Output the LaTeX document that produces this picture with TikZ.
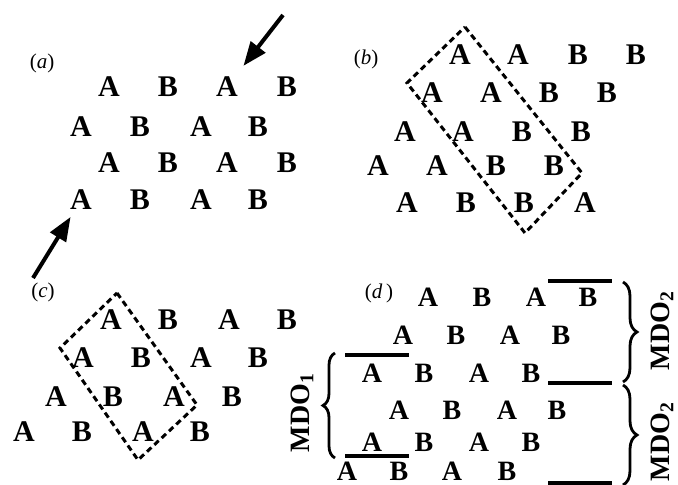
\documentclass[tikz,border=0pt]{standalone}
\usepackage{fontspec}
\setmainfont{Liberation Serif}
\usetikzlibrary{arrows.meta}
\usetikzlibrary{decorations.pathreplacing}

\begin{document}
\begin{tikzpicture}[x=1pt,y=-1pt,
	every node/.style={inner sep=0pt, font=\fontsize{30}{30}\selectfont\bfseries},
	dlab/.style={font=\fontsize{21}{21}\selectfont},
	mdo/.style={rotate=90, font=\fontsize{28}{28}\selectfont\bfseries},
	bigarrow/.style={line width=4pt, -{Triangle[length=24pt,width=18pt]}},
	cell/.style={line width=3pt, dash pattern=on 6pt off 4pt},
	bar/.style={line width=3.3pt},
	curly/.style={line width=2.8pt, decorate, decoration={brace,amplitude=#1}}]
		
		\useasboundingbox (0,0) rectangle (678,485);
		
		% (a)
		\node[dlab] (la) at (42,63) {(\textit{a})};
		\path (109,87) node (a11) {A} (168,87) node (a12) {B} (227,87) node (a13) {A} (287,87) node (a14) {B};
		\path (81,127) node (a21) {A} (140,127) node (a22) {B} (201,127) node (a23) {A} (258,127) node (a24) {B};
		\path (109,163) node (a31) {A} (168,163) node (a32) {B} (227,163) node (a33) {A} (287,163) node (a34) {B};
		\path (81,200) node (a41) {A} (140,200) node (a42) {B} (201,200) node (a43) {A} (258,200) node (a44) {B};
		\coordinate (intop) at (283,15);
		\coordinate (inbot) at (33,278);
		\draw[bigarrow, shorten >=14pt] (intop) -- (a13);
		\draw[bigarrow, shorten >=8pt] (inbot) -- (a41);
		
		% (b)
		\node[dlab] (lb) at (366,59) {(\textit{b})};
		\path (460,55) node (b11) {A} (518,55) node (b12) {A} (578,55) node (b13) {B} (636,55) node (b14) {B};
		\path (432,93) node (b21) {A} (491,93) node (b22) {A} (549,93) node (b23) {B} (607,93) node (b24) {B};
		\path (405,132) node (b31) {A} (463,132) node (b32) {A} (522,132) node (b33) {B} (581,132) node (b34) {B};
		\path (378,166) node (b41) {A} (437,166) node (b42) {A} (496,166) node (b43) {B} (554,166) node (b44) {B};
		\path (407,203) node (b51) {A} (466,203) node (b52) {B} (524,203) node (b53) {B} (585,203) node (b54) {A};
		\draw[cell] (465,27) -- (582,173) -- (525,233) -- (407,83) -- cycle;
		
		% (c)
		\node[dlab] (lc) at (43,292) {(\textit{c})};
		\path (111,320) node (c11) {A} (168,320) node (c12) {B} (229,320) node (c13) {A} (287,320) node (c14) {B};
		\path (83,358) node (c21) {A} (141,358) node (c22) {B} (201,358) node (c23) {A} (258,358) node (c24) {B};
		\path (56,397) node (c31) {A} (113,397) node (c32) {B} (174,397) node (c33) {A} (232,397) node (c34) {B};
		\path (24,432) node (c41) {A} (82,432) node (c42) {B} (143,432) node (c43) {A} (200,432) node (c44) {B};
		\draw[cell] (117,293) -- (197,405) -- (138,460) -- (60,348) -- cycle;
		
		% (d)
		\node[dlab] (ld) at (379,293) {(\textit{d}\,)};
		\begin{scope}[every node/.style={inner sep=0pt, font=\fontsize{28}{28}\selectfont\bfseries}]
		\path (428,297) node (d11) {A} (482,297) node (d12) {B} (536,297) node (d13) {A} (588,297) node (d14) {B};
		\path (403,335) node (d21) {A} (456,335) node (d22) {B} (510,335) node (d23) {A} (561,335) node (d24) {B};
		\path (372,373) node (d31) {A} (424,373) node (d32) {B} (479,373) node (d33) {A} (531,373) node (d34) {B};
		\path (399,410) node (d41) {A} (452,410) node (d42) {B} (507,410) node (d43) {A} (557,410) node (d44) {B};
		\path (372,442) node (d51) {A} (424,442) node (d52) {B} (479,442) node (d53) {A} (531,442) node (d54) {B};
		\path (347,471) node (d61) {A} (399,471) node (d62) {B} (452,471) node (d63) {A} (507,471) node (d64) {B};
		\end{scope}
		\draw[bar] (548,281) -- (612,281);
		\draw[bar] (548,383) -- (612,383);
		\draw[bar] (548,483) -- (612,483);
		\draw[bar] (345,355) -- (409,355);
		\draw[bar] (345,456) -- (409,456);
		\draw[curly=14pt] (623,282) -- (623,382);
		\draw[curly=14pt] (623,385) -- (623,485);
		\draw[curly=12pt] (335,458) -- (335,353);
		\node[mdo] (mdo1) at (302,413) {MDO\textsubscript{1}};
		\node[mdo] (mdo2) at (662,331) {MDO\textsubscript{2}};
		\node[mdo] (mdo3) at (662,442) {MDO\textsubscript{2}};
		
	\end{tikzpicture}
\end{document}
